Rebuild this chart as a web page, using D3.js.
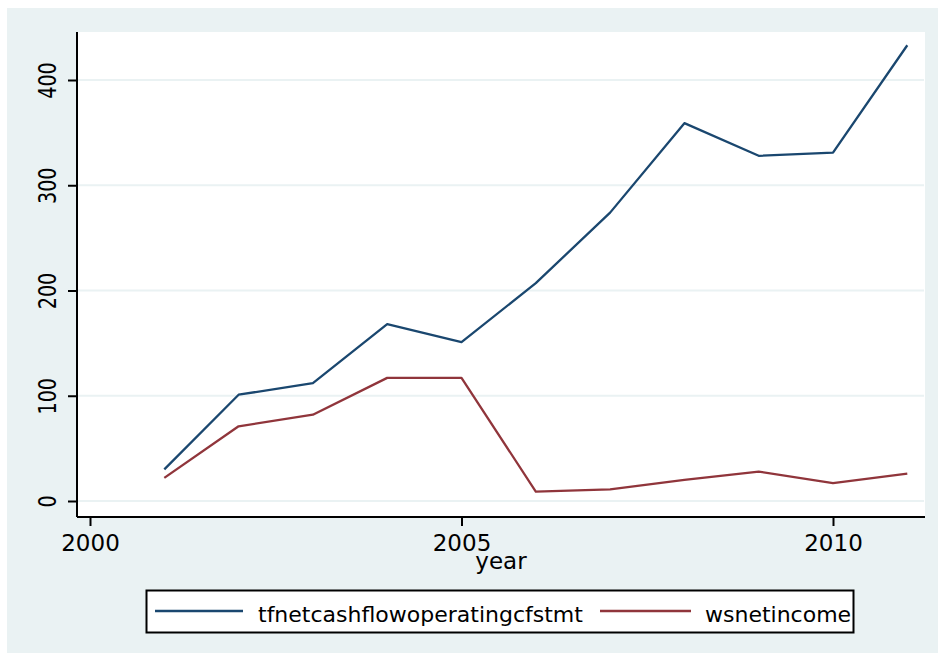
<!DOCTYPE html>
<html>
<head>
<meta charset="utf-8">
<script src="https://cdn.jsdelivr.net/npm/d3@7"></script>
<style>
  body { margin: 0; background: #ffffff; }
  svg text { font-family: "DejaVu Sans", sans-serif; fill: #000; }
</style>
</head>
<body>
<div id="chart"></div>
<script>
// data
var years = [2001, 2002, 2003, 2004, 2005, 2006, 2007, 2008, 2009, 2010, 2011];
var cashflow = [30, 101, 112, 168, 151, 207, 274, 359, 328, 331, 433];
var netincome = [22, 71, 82, 117, 117, 9, 11, 20, 28, 17, 26];
var xTicks = [2000, 2005, 2010];
var yTicks = [0, 100, 200, 300, 400];
var seriesNames = ["tfnetcashflowoperatingcfstmt", "wsnetincome"];
var seriesColors = ["#1a476f", "#90353b"];

var width = 938, height = 655;

var svg = d3.select("#chart")
    .append("svg")
    .attr("width", width)
    .attr("height", height);

// outer graph region
svg.append("rect")
    .attr("x", 7).attr("y", 8)
    .attr("width", 931).attr("height", 645)
    .attr("fill", "#eaf2f3");

// plot region
var plot = { left: 77, right: 925, top: 32, bottom: 517 };

svg.append("rect")
    .attr("x", plot.left).attr("y", plot.top)
    .attr("width", plot.right - plot.left)
    .attr("height", plot.bottom - plot.top)
    .attr("fill", "#ffffff");

var x = d3.scaleLinear()
    .domain([2000, 2010])
    .range([90, 833]);

var y = d3.scaleLinear()
    .domain([0, 400])
    .range([501, 80]);

// gridlines
svg.append("g")
    .selectAll("line")
    .data(yTicks)
    .enter()
    .append("line")
    .attr("x1", plot.left)
    .attr("x2", plot.right - 1)
    .attr("y1", function (d) { return y(d); })
    .attr("y2", function (d) { return y(d); })
    .attr("stroke", "#eaf2f3")
    .attr("stroke-width", 2);

// y axis
var yAxis = svg.append("g")
    .attr("transform", "translate(" + plot.left + ",0)")
    .call(d3.axisLeft(y).tickValues(yTicks).tickSize(9).tickPadding(0).tickFormat(d3.format("d")));

yAxis.select(".domain")
    .attr("d", "M0," + plot.top + "V" + plot.bottom)
    .attr("stroke", "#000")
    .attr("stroke-width", 2);
yAxis.selectAll(".tick line").attr("stroke", "#000").attr("stroke-width", 2);
yAxis.selectAll(".tick text")
    .attr("x", null).attr("dy", null)
    .attr("text-anchor", "middle")
    .attr("font-size", 24)
    .attr("transform", "translate(-21,0) rotate(-90) scale(0.8,1)");

// x axis
var xAxis = svg.append("g")
    .attr("transform", "translate(0," + plot.bottom + ")")
    .call(d3.axisBottom(x).tickValues(xTicks).tickSize(9).tickPadding(0).tickFormat(d3.format("d")));

xAxis.select(".domain")
    .attr("d", "M" + plot.left + ",0H" + plot.right)
    .attr("stroke", "#000")
    .attr("stroke-width", 2);
xAxis.selectAll(".tick line").attr("stroke", "#000").attr("stroke-width", 2);
xAxis.selectAll(".tick text")
    .attr("y", 34).attr("dy", null)
    .attr("font-size", 23);

svg.append("text")
    .attr("x", (plot.left + plot.right) / 2)
    .attr("y", 569)
    .attr("text-anchor", "middle")
    .attr("font-size", 23)
    .text("year");

// lines
var line = d3.line()
    .x(function (d) { return x(d[0]); })
    .y(function (d) { return y(d[1]); });

[cashflow, netincome].forEach(function (vals, i) {
    svg.append("path")
        .datum(years.map(function (yr, j) { return [yr, vals[j]]; }))
        .attr("fill", "none")
        .attr("stroke", seriesColors[i])
        .attr("stroke-width", 2.3)
        .attr("stroke-linejoin", "round")
        .attr("d", line);
});

// legend
var legend = svg.append("g");

legend.append("rect")
    .attr("x", 146.5).attr("y", 590.5)
    .attr("width", 707).attr("height", 42)
    .attr("fill", "#ffffff")
    .attr("stroke", "#000")
    .attr("stroke-width", 2);

var legendItems = [
    { x1: 155, x2: 243, tx: 258 },
    { x1: 600, x2: 691, tx: 705 }
];

legendItems.forEach(function (it, i) {
    legend.append("line")
        .attr("x1", it.x1).attr("x2", it.x2)
        .attr("y1", 611).attr("y2", 611)
        .attr("stroke", seriesColors[i])
        .attr("stroke-width", 2.3);
    legend.append("text")
        .attr("x", it.tx)
        .attr("y", 622)
        .attr("font-size", 22)
        .text(seriesNames[i]);
});
</script>
</body>
</html>
